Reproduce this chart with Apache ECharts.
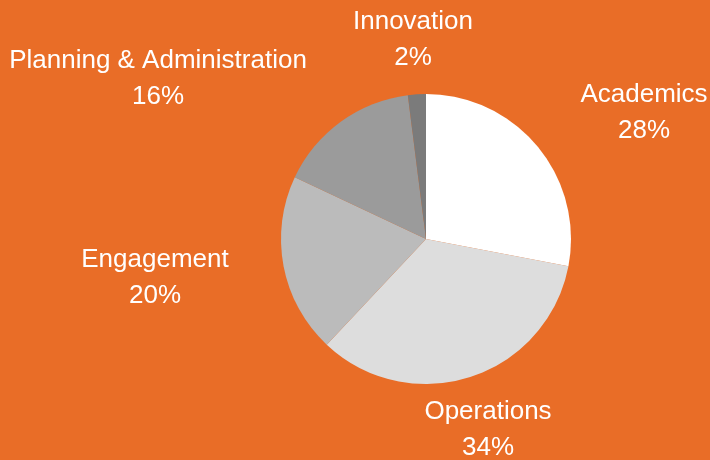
<!DOCTYPE html>
<html>
<head>
<meta charset="utf-8">
<script src="https://cdn.jsdelivr.net/npm/echarts@6/dist/echarts.min.js"></script>
<style>
  html, body { margin: 0; padding: 0; background: #E96D27; }
  #chart { width: 710px; height: 460px; }
</style>
</head>
<body>
<div id="chart"></div>
<script>
const categories = ['Academics', 'Operations', 'Engagement', 'Planning & Administration', 'Innovation']
const shares = [28, 34, 20, 16, 2]
const sliceColors = ['#FFFFFF', '#DDDDDD', '#BBBBBB', '#9B9B9B', '#7B7B7B']
// label anchor points (layout only)
const labelPos = [[644, 113], [488, 430], [155, 278], [158, 79], [413, 40]]

const myChart = echarts.init(document.getElementById('chart'))
const option = {
  backgroundColor: '#E96D27',
  animation: false,
  series: [
    {
      type: 'pie',
      center: [426, 239],
      radius: [0, 145],
      startAngle: 90,
      clockwise: true,
      avoidLabelOverlap: false,
      itemStyle: { borderWidth: 0 },
      label: {
        show: true,
        position: 'outside',
        formatter: '{b}\n{c}%',
        color: '#FFFFFF',
        fontFamily: 'Liberation Sans',
        fontSize: 26,
        lineHeight: 36,
        align: 'center'
      },
      labelLine: { show: false },
      labelLayout: function (p) {
        const pos = labelPos[p.dataIndex]
        return { x: pos[0], y: pos[1], align: 'center', verticalAlign: 'middle' }
      },
      emphasis: { disabled: true },
      data: categories.map((name, i) => ({
        name: name,
        value: shares[i],
        itemStyle: { color: sliceColors[i] }
      }))
    }
  ]
}
myChart.setOption(option)
</script>
</body>
</html>
